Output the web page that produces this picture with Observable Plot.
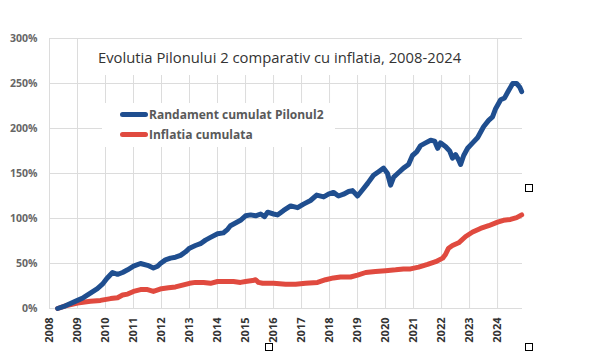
<!DOCTYPE html>
<html>
<head>
<meta charset="utf-8">
<script src="https://cdn.jsdelivr.net/npm/d3@7"></script>
<script src="https://cdn.jsdelivr.net/npm/@observablehq/plot@0.6"></script>
<style>
  html, body { margin: 0; padding: 0; background: #fff; }
  #wrap { position: relative; width: 600px; height: 363px; overflow: hidden; }
  #title { position: absolute; left: 90px; top: 39px; width: 398px; height: 36px; background: #fff;
    font-family: "Open Sans", sans-serif; font-size: 14.8px; color: #333; line-height: 36px; text-indent: 8px; white-space: nowrap; }
  #legend { position: absolute; left: 102px; top: 103px; width: 233px; height: 44px; background: #fff;
    font-family: "Open Sans", sans-serif; font-weight: bold; font-size: 12px; color: #595959; }
  .li { position: absolute; left: 18px; height: 16px; line-height: 16px; white-space: nowrap; }
  .sw { display: inline-block; width: 28px; height: 5px; border-radius: 3px; vertical-align: middle; margin-right: 1px; position: relative; top: -1px; }
  .hd { position: absolute; width: 6px; height: 6px; border: 1px solid #000; background: #fff; }
</style>
</head>
<body>
<div id="wrap"></div>
<script>
// Data
const pilonYears = [2008.29,2008.57,2009.0,2009.21,2009.46,2009.71,2009.89,2010.04,2010.25,2010.43,2010.61,2010.79,2011.0,2011.25,2011.5,2011.71,2011.86,2011.96,2012.14,2012.32,2012.5,2012.68,2012.86,2013.0,2013.21,2013.39,2013.57,2013.75,2014.0,2014.21,2014.36,2014.46,2014.64,2014.82,2015.0,2015.18,2015.36,2015.54,2015.68,2015.79,2016.0,2016.14,2016.36,2016.61,2016.86,2017.07,2017.32,2017.54,2017.79,2017.96,2018.14,2018.32,2018.5,2018.68,2018.82,2019.0,2019.18,2019.36,2019.57,2019.75,2019.93,2020.07,2020.18,2020.29,2020.43,2020.64,2020.82,2020.96,2021.11,2021.25,2021.43,2021.61,2021.75,2021.86,2021.96,2022.14,2022.29,2022.39,2022.5,2022.61,2022.68,2022.79,2022.93,2023.11,2023.29,2023.5,2023.68,2023.82,2023.93,2024.11,2024.25,2024.39,2024.54,2024.68,2024.79,2024.86];
const pilonValues = [0,3,9,12,17,22,27,33,40,38,40,43,47,50,48,45,47,50,54,56,57,59,63,67,70,72,76,79,83,84,88,92,95,98,103,104,103,105,102,107,105,104,109,114,112,116,120,126,124,127,129,125,127,130,131,125,132,139,148,152,156,150,137,146,150,156,160,170,174,181,184,187,186,178,184,180,175,167,171,165,160,170,178,184,190,202,209,213,222,232,234,242,250,250,246,241];

const inflYears = [2008.29,2008.57,2009.0,2009.46,2009.82,2010.18,2010.43,2010.61,2010.79,2011.0,2011.25,2011.5,2011.71,2012.0,2012.25,2012.5,2012.75,2013.0,2013.21,2013.5,2013.75,2014.0,2014.29,2014.57,2014.82,2015.0,2015.25,2015.36,2015.46,2015.61,2016.0,2016.43,2016.79,2017.14,2017.57,2017.86,2018.14,2018.39,2018.75,2019.0,2019.29,2019.64,2020.0,2020.36,2020.64,2020.89,2021.18,2021.5,2021.79,2022.04,2022.14,2022.25,2022.39,2022.61,2022.86,2023.11,2023.39,2023.68,2024.0,2024.21,2024.46,2024.68,2024.86];
const inflValues = [0,3,6,8,9,11,12,15,16,19,21,21,19,22,23,24,26,28,29,29,28,30,30,30,29,30,31,32,29,28,28,27,27,28,29,32,34,35,35,37,40,41,42,43,44,44,46,49,52,56,60,67,70,73,80,85,89,92,96,98,99,101,104];

const yearTicks = d3.range(2008, 2025);
const pctTicks = [0, 50, 100, 150, 200, 250, 300];

const titleText = "Evolutia Pilonului 2 comparativ cu inflatia, 2008-2024";
const seriesNames = ["Randament cumulat Pilonul2", "Inflatia cumulata"];
const seriesColors = ["#1f4e8f", "#e04a3f"];

const pilon = pilonYears.map((y, i) => ({year: y, value: pilonValues[i]}));
const infl = inflYears.map((y, i) => ({year: y, value: inflValues[i]}));

const chart = Plot.plot({
  width: 600,
  height: 363,
  marginLeft: 49,
  marginRight: 78,
  marginTop: 38,
  marginBottom: 55,
  style: {fontFamily: "Open Sans, sans-serif", background: "#fff"},
  x: {domain: [2008, 2024.89], ticks: yearTicks},
  y: {domain: [0, 300], ticks: pctTicks},
  marks: [
    Plot.gridX(yearTicks, {stroke: "#dcdcdc", strokeOpacity: 1, strokeWidth: 1}),
    Plot.gridY(pctTicks, {stroke: "#dcdcdc", strokeOpacity: 1, strokeWidth: 1}),
    Plot.axisX(yearTicks, {tickRotate: -90, tickSize: 0, tickPadding: 9, tickFormat: d => String(d),
      fontSize: 11, fontWeight: "bold", fill: "#333", label: null}),
    Plot.axisY(pctTicks, {tickSize: 0, tickPadding: 12, tickFormat: d => d + "%",
      fontSize: 10.5, fontWeight: "bold", fill: "#666", label: null}),
    Plot.line(infl, {x: "year", y: "value", stroke: seriesColors[1], strokeWidth: 5, strokeLinejoin: "round", strokeLinecap: "round"}),
    Plot.line(pilon, {x: "year", y: "value", stroke: seriesColors[0], strokeWidth: 5, strokeLinejoin: "round", strokeLinecap: "round"})
  ]
});

const wrap = document.getElementById("wrap");
wrap.appendChild(chart);

const t = document.createElement("div");
t.id = "title";
t.textContent = titleText;
wrap.appendChild(t);

const lg = document.createElement("div");
lg.id = "legend";
seriesNames.forEach((n, i) => {
  const row = document.createElement("div");
  row.className = "li";
  row.style.top = (4 + i * 20) + "px";
  const sw = document.createElement("span");
  sw.className = "sw";
  sw.style.background = seriesColors[i];
  row.appendChild(sw);
  row.appendChild(document.createTextNode(n));
  lg.appendChild(row);
});
wrap.appendChild(lg);

// selection handle artifacts
[[265, 343], [525, 184], [525, 343]].forEach(([l, tp]) => {
  const h = document.createElement("div");
  h.className = "hd";
  h.style.left = l + "px";
  h.style.top = tp + "px";
  wrap.appendChild(h);
});
</script>
</body>
</html>
